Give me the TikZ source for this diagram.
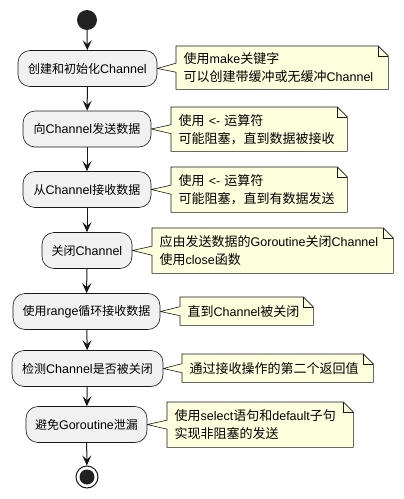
\documentclass[tikz,border=0pt]{standalone}
\usepackage{fontspec}
\setmainfont{Liberation Sans}
\newfontfamily\cjka{Noto Sans CJK SC}[Scale=0.96]
\newfontfamily\cjkn{Noto Sans CJK SC}[Scale=1.04]
\let\zhfont\cjka
\newcommand{\zh}[1]{{\zhfont #1}}
\usetikzlibrary{calc,arrows.meta,backgrounds}
\definecolor{actfill}{HTML}{F1F1F1}
\definecolor{linec}{HTML}{181818}
\definecolor{notefill}{HTML}{FEFFDD}
\definecolor{dotc}{HTML}{222222}
\tikzset{
  act/.style={draw=linec, line width=0.6pt, fill=actfill, rounded corners=12pt,
    minimum height=36pt, inner sep=0pt, font=\fontsize{12.5}{15}\selectfont\let\zhfont\cjka},
  notebox/.style={inner xsep=7.5pt, inner ysep=0pt, align=left, anchor=north west,
    font=\fontsize{12.5}{18}\selectfont\let\zhfont\cjkn},
  noteline/.style={draw=linec, line width=0.6pt, fill=notefill},
  arr/.style={draw=linec, line width=1pt, -{Stealth[length=10pt,width=9pt,inset=4pt]}},
}
\newcommand{\notefold}[2]{%
  \path[noteline] (#1.north west) -- ([xshift=-10pt]#1.north east) -- ([yshift=-10pt]#1.north east)
    -- (#1.south east) -- (#1.south west) -- ([yshift=-4.5pt]#1.west) -- (#2.east)
    -- ([yshift=4.5pt]#1.west) -- cycle;
  \draw[linec, line width=0.6pt] ([xshift=-10pt]#1.north east) -- ([xshift=-10pt,yshift=-10pt]#1.north east)
    -- ([yshift=-10pt]#1.north east);
}
\begin{document}
\begin{tikzpicture}[x=1pt,y=-1pt]
\useasboundingbox (0,0) rectangle (404,499);
% start
\node[circle, fill=dotc, minimum size=20pt, inner sep=0pt] (start) at (87,20) {};
% activities
\node[act, minimum width=139pt] (a1) at (87.5,68.5) {\zh{创建和初始化}Channel};
\node[act, minimum width=128pt] (a2) at (87,129) {\zh{向}Channel\zh{发送数据}};
\node[act, minimum width=128pt] (a3) at (87,189.5) {\zh{从}Channel\zh{接收数据}};
\node[act, minimum width=90pt] (a4) at (87,250.5) {\zh{关闭}Channel};
\node[act, minimum width=147pt] (a5) at (86.5,311.5) {\zh{使用}range\zh{循环接收数据}};
\node[act, minimum width=151pt] (a6) at (87.5,368.5) {\zh{检测}Channel\zh{是否被关闭}};
\node[act, minimum width=121pt] (a7) at (86.5,424.5) {\zh{避免}Goroutine\zh{泄漏}};
% end
\node[circle, draw=linec, line width=1pt, fill=white, minimum size=22pt, inner sep=0pt] (end) at (87,477) {};
\fill[dotc] (end.center) circle (7.5pt);
% notes
\node[notebox, minimum width=212pt, minimum height=43pt, text width=197pt] (n1) at (176,46)
  {\zh{使用}make\zh{关键字}\\\zh{可以创建带缓冲或无缓冲}Channel};
\node[notebox, minimum width=176pt, minimum height=44pt, text width=161pt] (n2) at (171,107)
  {\zh{使用} <- \zh{运算符}\\\zh{可能阻塞，直到数据被接收}};
\node[notebox, minimum width=176pt, minimum height=45pt, text width=161pt] (n3) at (171,167)
  {\zh{使用} <- \zh{运算符}\\\zh{可能阻塞，直到有数据发送}};
\node[notebox, minimum width=241pt, minimum height=45pt, text width=226pt] (n4) at (152,228)
  {\zh{应由发送数据的}Goroutine\zh{关闭}Channel\\\zh{使用}close\zh{函数}};
\node[notebox, minimum width=133pt, minimum height=28pt, text width=118pt] (n5) at (180,297)
  {\zh{直到}Channel\zh{被关闭}};
\node[notebox, minimum width=191pt, minimum height=28pt, text width=176pt] (n6) at (182,354)
  {\zh{通过接收操作的第二个返回值}};
\node[notebox, minimum width=186pt, minimum height=45pt, text width=171pt] (n7) at (167,402)
  {\zh{使用}select\zh{语句和}default\zh{子句}\\\zh{实现非阻塞的发送}};
\begin{scope}[on background layer]
\notefold{n1}{a1}
\notefold{n2}{a2}
\notefold{n3}{a3}
\notefold{n4}{a4}
\notefold{n5}{a5}
\notefold{n6}{a6}
\notefold{n7}{a7}
\end{scope}
% connectors
\draw[arr] (start) -- (a1);
\draw[arr] (a1) -- (a2);
\draw[arr] (a2) -- (a3);
\draw[arr] (a3) -- (a4);
\draw[arr] (a4) -- (a5);
\draw[arr] (a5) -- (a6);
\draw[arr] (a6) -- (a7);
\draw[arr] (a7) -- (end);
\end{tikzpicture}
\end{document}
